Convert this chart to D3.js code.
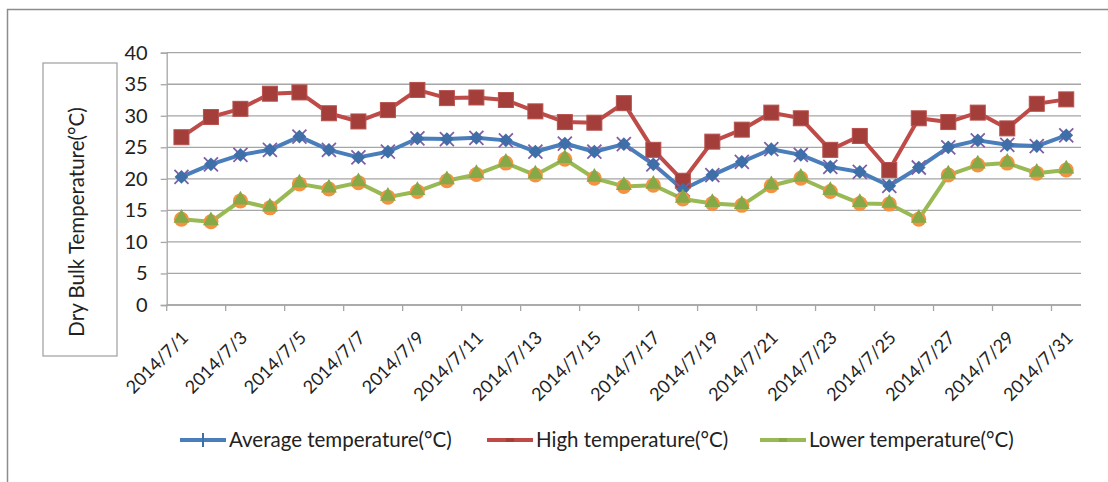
<!DOCTYPE html>
<html><head><meta charset="utf-8">
<script src="https://cdn.jsdelivr.net/npm/d3@7"></script>
<style>
body{margin:0;background:#fff;}
svg text{font-family:Lato,"Noto Sans",sans-serif;fill:#222;}
</style></head>
<body><svg id="c" width="1108" height="482"></svg>
<script>
const days = d3.range(1,32).map(d => "2014/7/" + d);
const avgTemp = [20.3,22.3,23.8,24.6,26.7,24.6,23.4,24.3,26.4,26.3,26.5,26.1,24.3,25.6,24.3,25.5,22.3,18.3,20.6,22.7,24.7,23.8,21.9,21.1,18.9,21.8,25.0,26.1,25.4,25.2,26.9];
const highTemp = [26.6,29.8,31.1,33.5,33.7,30.4,29.1,30.9,34.1,32.8,32.9,32.5,30.7,29.0,28.9,32.0,24.6,19.7,25.9,27.8,30.5,29.6,24.6,26.8,21.4,29.6,29.0,30.5,28.0,31.9,32.6];
const lowTemp = [13.6,13.2,16.5,15.4,19.2,18.4,19.4,17.1,18.0,19.7,20.7,22.5,20.6,23.1,20.1,18.8,19.0,16.8,16.1,15.8,18.9,20.1,18.0,16.1,16.0,13.6,20.6,22.2,22.5,20.9,21.4];
const yTicks = [0,5,10,15,20,25,30,35,40];
const seriesNames = ["Average temperature(\u00b0C)","High temperature(\u00b0C)","Lower temperature(\u00b0C)"];

const svg = d3.select("#c");
// outer frame
svg.append("path").attr("d","M7.5,482 V9.5 H1108").attr("fill","none").attr("stroke","#8c8c8c").attr("stroke-width",1.5);

const x0 = 166.7, x1 = 1081, yTop = 52.7, yBot = 305;
const x = d3.scaleBand().domain(days).range([x0,x1]).paddingInner(0).paddingOuter(0);
const y = d3.scaleLinear().domain([0,40]).range([yBot,yTop]);
const cx = d => x(d) + x.bandwidth()/2;

// gridlines
svg.append("g").selectAll("line").data(yTicks).join("line")
  .attr("x1",x0).attr("x2",x1).attr("y1",d=>y(d)).attr("y2",d=>y(d))
  .attr("stroke","#a6a6a6").attr("stroke-width",1.3);
// y axis
const ya = svg.append("g").attr("transform",`translate(${x0},0)`)
  .call(d3.axisLeft(y).tickValues(yTicks).tickSize(6).tickPadding(13));
ya.select(".domain").attr("stroke","#a6a6a6").attr("stroke-width",1.3);
ya.selectAll(".tick line").attr("stroke","#a6a6a6").attr("stroke-width",1.3);
ya.selectAll("text").attr("font-size","20px").attr("fill","#222").attr("font-family","Lato");
// x axis: ticks at category boundaries every 2
const bounds = d3.range(0,31,2);
svg.append("line").attr("x1",x0).attr("x2",x1).attr("y1",yBot).attr("y2",yBot).attr("stroke","#a6a6a6").attr("stroke-width",1.3);
svg.append("g").selectAll("line").data(bounds).join("line")
  .attr("x1",d=>x0+d*x.bandwidth()).attr("x2",d=>x0+d*x.bandwidth())
  .attr("y1",yBot).attr("y2",yBot+6).attr("stroke","#a6a6a6").attr("stroke-width",1.3);
svg.append("g").selectAll("text").data(days.filter((d,i)=>i%2===0)).join("text")
  .attr("transform",d=>`translate(${cx(d)-1},${yBot+25}) rotate(-45)`)
  .attr("text-anchor","end").attr("dy","0.7em").attr("font-size","18px").text(d=>d);

// y label box
svg.append("rect").attr("x",43).attr("y",63).attr("width",74).attr("height",293).attr("fill","#fff").attr("stroke","#a6a6a6").attr("stroke-width",1.3);
svg.append("text").attr("transform","translate(77,222) rotate(-90)").attr("text-anchor","middle").attr("dy","0.35em")
  .attr("font-size","20.5px").text("Dry Bulk Temperature(\u00b0C)");

const line = d3.line().x((d,i)=>cx(days[i])).y(d=>y(d));
const colors = {avg:"#4a7ebb", high:"#be4b48", low:"#98b954"};

// lines
svg.append("path").datum(highTemp).attr("d",line).attr("fill","none").attr("stroke",colors.high).attr("stroke-width",4).attr("stroke-linejoin","round");
svg.append("path").datum(avgTemp).attr("d",line).attr("fill","none").attr("stroke",colors.avg).attr("stroke-width",4).attr("stroke-linejoin","round");
svg.append("path").datum(lowTemp).attr("d",line).attr("fill","none").attr("stroke",colors.low).attr("stroke-width",4).attr("stroke-linejoin","round");

// high markers: squares
svg.append("g").selectAll("rect").data(highTemp).join("rect")
  .attr("x",(d,i)=>cx(days[i])-7.5).attr("y",d=>y(d)-7.5).attr("width",15).attr("height",15)
  .attr("fill","#a33e3b").attr("stroke","#b8504d").attr("stroke-width",1);
// avg markers: purple X + blue star
const gA = svg.append("g").selectAll("g").data(avgTemp).join("g")
  .attr("transform",(d,i)=>`translate(${cx(days[i])},${y(d)})`);
gA.append("path").attr("d","M-7,-7L7,7M-7,7L7,-7").attr("stroke","#7f5fa5").attr("stroke-width",1.8);
gA.append("path").attr("d",d3.symbol().type(d3.symbolDiamond2).size(120)()).attr("fill","#3e6fa8");
gA.append("path").attr("d",d3.symbol().type(d3.symbolSquare2).size(55)()).attr("fill","#3e6fa8");
// low markers: orange circle + green triangle
const gL = svg.append("g").selectAll("g").data(lowTemp).join("g")
  .attr("transform",(d,i)=>`translate(${cx(days[i])},${y(d)})`);
gL.append("circle").attr("r",7.5).attr("fill","#f29242");
gL.append("path").attr("d",d3.symbol().type(d3.symbolTriangle).size(110)()).attr("fill","#86a947").attr("transform","translate(0,-1)");

// legend
const leg = [
  {name:seriesNames[0], c:colors.avg, x:180, mark:"plus"},
  {name:seriesNames[1], c:colors.high, x:487, mark:"sq"},
  {name:seriesNames[2], c:colors.low, x:760, mark:"tri"}
];
const lg = svg.append("g").selectAll("g").data(leg).join("g").attr("transform",d=>`translate(${d.x},440)`);
lg.append("line").attr("x1",0).attr("x2",46).attr("stroke",d=>d.c).attr("stroke-width",4);
lg.filter(d=>d.mark==="plus").append("path").attr("d","M23,-7V7").attr("stroke","#3e6fa8").attr("stroke-width",2);
lg.filter(d=>d.mark==="sq").append("rect").attr("x",19).attr("y",-2).attr("width",8).attr("height",4).attr("fill","#a33e3b");
lg.filter(d=>d.mark==="tri").append("rect").attr("x",19).attr("y",-2).attr("width",8).attr("height",4).attr("fill","#86a947");
lg.append("text").attr("x",49).attr("dy","0.35em").attr("font-size","20.5px").text(d=>d.name);
</script></body></html>
